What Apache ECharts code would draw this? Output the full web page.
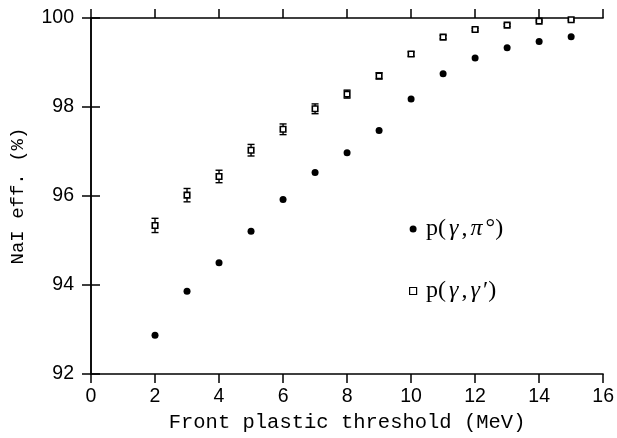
<!DOCTYPE html>
<html>
<head>
<meta charset="utf-8">
<script src="https://cdn.jsdelivr.net/npm/echarts@6/dist/echarts.min.js"></script>
<style>
  html, body { margin: 0; padding: 0; background: #fff; }
  #chart { width: 617px; height: 438px; }
</style>
</head>
<body>
<div id="chart"></div>
<script>
// front plastic threshold (MeV)
const thresholds = [2, 3, 4, 5, 6, 7, 8, 9, 10, 11, 12, 13, 14, 15];
// p(γ,π°) efficiency (%)
const effPi0 = [92.87, 93.86, 94.50, 95.21, 95.92, 96.53, 96.97, 97.47, 98.18, 98.75, 99.10, 99.33, 99.47, 99.58];
// p(γ,γ') efficiency (%) and its error
const effGamma = [95.34, 96.02, 96.44, 97.03, 97.50, 97.96, 98.29, 98.70, 99.19, 99.57, 99.74, 99.84, 99.93, 99.96];
const errGamma = [0.16, 0.15, 0.14, 0.13, 0.12, 0.11, 0.09, 0.07, 0.05, 0.04, 0.03, 0.03, 0.02, 0.02];

const chart = echarts.init(document.getElementById('chart'));

const axisCommon = {
  type: 'value',
  axisLine: { show: true, lineStyle: { color: '#000', width: 1.5 } },
  axisTick: { show: true, inside: false, length: 9, lineStyle: { color: '#000', width: 1.5 } },
  splitLine: { show: false }
};

const errData = thresholds.map((x, i) => [x, effGamma[i] - errGamma[i], effGamma[i] + errGamma[i]]);

const legendRich = {
  n: { fontSize: 24, fontFamily: 'Liberation Serif', color: '#000', padding: [0, 1.5, 0, 1.5] },
  i: { fontSize: 24, fontFamily: 'Liberation Serif', fontStyle: 'italic', color: '#000', padding: [0, 1.5, 0, 1.5] }
};

const option = {
  animation: false,
  grid: { left: 91, right: 9, top: 18, bottom: 56 },
  xAxis: [
    Object.assign({}, axisCommon, {
      position: 'bottom',
      min: 0, max: 16, interval: 2,
      axisLabel: { margin: 13, color: '#000', fontSize: 19.5, fontFamily: 'Liberation Sans' },
      name: 'Front plastic threshold (MeV)',
      nameLocation: 'middle',
      nameGap: 33,
      nameTextStyle: { color: '#000', fontSize: 20.5, fontFamily: 'Liberation Mono' }
    }),
    Object.assign({}, axisCommon, {
      position: 'top',
      min: 0, max: 16, interval: 2,
      axisLabel: { show: false }
    })
  ],
  yAxis: [
    Object.assign({}, axisCommon, {
      position: 'left',
      min: 92, max: 100, interval: 2,
      axisLabel: { margin: 17, color: '#000', fontSize: 19.5, fontFamily: 'Liberation Sans' },
      name: 'NaI eff. (%)',
      nameLocation: 'middle',
      nameGap: 64,
      nameRotate: 90,
      nameTextStyle: { color: '#000', fontSize: 19, fontFamily: 'Liberation Mono' }
    }),
    Object.assign({}, axisCommon, {
      position: 'right',
      min: 92, max: 100, interval: 2,
      axisLabel: { show: false }
    })
  ],
  legend: {
    orient: 'vertical',
    left: 404,
    top: 212,
    itemGap: 38,
    itemWidth: 7,
    itemHeight: 7,
    textStyle: { rich: legendRich, padding: [0, 0, 0, 3] },
    formatter: function (name) {
      return name === 'pi0' ? '{n|p(}{i|γ}{n|,}{i|π}{n|°)}' : '{n|p(}{i|γ}{n|,}{i|γ}{n|′)}';
    },
    data: [
      { name: 'pi0', icon: 'circle', itemStyle: { color: '#000', opacity: 1 } },
      { name: 'gamma', icon: 'rect', itemStyle: { color: '#fff', borderColor: '#000', borderWidth: 1.2 } }
    ]
  },
  series: [
    {
      name: 'pi0',
      type: 'scatter',
      symbol: 'circle',
      symbolSize: 7,
      itemStyle: { color: '#000', opacity: 1 },
      data: thresholds.map((x, i) => [x, effPi0[i]])
    },
    {
      name: 'errors',
      type: 'custom',
      silent: true,
      data: errData,
      renderItem: function (params, api) {
        const lo = api.coord([api.value(0), api.value(1)]);
        const hi = api.coord([api.value(0), api.value(2)]);
        const cap = 3.5;
        const style = { stroke: '#000', lineWidth: 1.4 };
        return {
          type: 'group',
          children: [
            { type: 'line', shape: { x1: lo[0], y1: lo[1], x2: hi[0], y2: hi[1] }, style: style },
            { type: 'line', shape: { x1: lo[0] - cap, y1: lo[1], x2: lo[0] + cap, y2: lo[1] }, style: style },
            { type: 'line', shape: { x1: hi[0] - cap, y1: hi[1], x2: hi[0] + cap, y2: hi[1] }, style: style }
          ]
        };
      },
      z: 2
    },
    {
      name: 'gamma',
      type: 'scatter',
      symbol: 'rect',
      symbolSize: 5.5,
      itemStyle: { color: '#fff', borderColor: '#000', borderWidth: 1.6, opacity: 1 },
      data: thresholds.map((x, i) => [x, effGamma[i]]),
      z: 3
    }
  ]
};

chart.setOption(option);
</script>
</body>
</html>
